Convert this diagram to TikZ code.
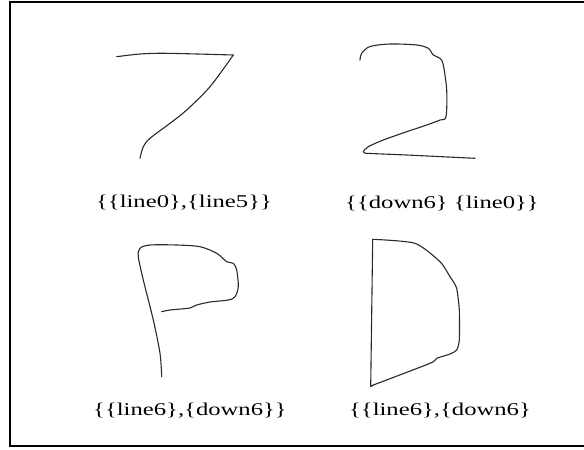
\documentclass[tikz,border=0pt]{standalone}
\usepackage{fontspec}
\setmainfont{Liberation Serif}
\usepackage{graphicx}
\usetikzlibrary{positioning}
\definecolor{inkgray}{HTML}{2A2A2A}
\tikzset{
  % tratto scritto a mano
  stroke/.style={draw=inkgray, line width=1.1pt, line cap=round, line join=round},
  % etichetta sotto ogni cifra
  lbl/.style={font=\fontsize{18}{20}\selectfont, inner sep=0pt},
  % cornice
  frame/.style={draw=black, line width=1.8pt},
}
\newcommand{\wide}[1]{\scalebox{1.37}[1]{#1}}

\begin{document}
\begin{tikzpicture}[x=1pt, y=-1pt]
  \useasboundingbox (0,0) rectangle (584,450);
  % cornice aperta a destra
  \draw[frame] (584,2) -- (10,2) -- (10,446) -- (584,446);
  % cifra 7
  \draw[stroke] plot[smooth, tension=0.5] coordinates {(116.7,56.7) (140,54) (166.7,53.3) (233.3,55)};
  \draw[stroke] plot[smooth, tension=0.5] coordinates {(233.3,55) (210,86.7) (186.7,110) (170,123.3) (150,138.3) (143.3,146.7) (140,158.3)};
  % cifra 2
  \draw[stroke] plot[smooth, tension=0.5] coordinates {(360,60) (361.7,53.3) (370,46.5) (390,44) (416.7,45) (428.3,48.3) (433.3,55) (440,58.3) (443.3,65) (446.7,90) (446,116.7) (440,120) (426.7,125) (406.7,131.7) (383.3,140) (368.3,146.7) (363.3,151.7) (366,153.3)};
  \draw[stroke] (366,153.3) -- (406.7,155) -- (475,158.3);
  % lettera P
  \draw[stroke] plot[smooth, tension=0.5] coordinates {(161.7,311.7) (170,310) (190,308) (196.7,305) (210,302) (228.3,300) (235,296.7) (238.3,286.7) (236.7,270) (233.3,263.3) (226.7,261.7) (216.7,253.3) (200,246.7) (176.7,245) (150,245) (140,248.3) (138.3,256.7) (143.3,280) (153.3,320) (160,353.3) (161.7,376.7)};
  % lettera D
  \draw[stroke] plot[smooth, tension=0.4] coordinates {(372.7,239.3) (415,243.3) (440,261.7) (450,276.7) (453.3,281.7) (456.7,288.3) (459.3,310) (459.3,340) (456.7,350) (450,354) (436.7,358.3) (430,363.3) (373.3,385)};
  \draw[stroke] (373.3,385) -- (370.7,386.7) -- (372.7,239.3);
  % etichette
  \node[lbl] (lab7) at (184,203) {\wide{\{\{line0\},\{line5\}\}}};
  \node[lbl] (lab2) at (442,203) {\wide{\{\{down6\} \{line0\}\}}};
  \node[lbl] (labP) at (190,411) {\wide{\{\{line6\},\{down6\}\}}};
  \node[lbl] (labD) at (440,411) {\wide{\{\{line6\},\{down6\}}};
\end{tikzpicture}
\end{document}
